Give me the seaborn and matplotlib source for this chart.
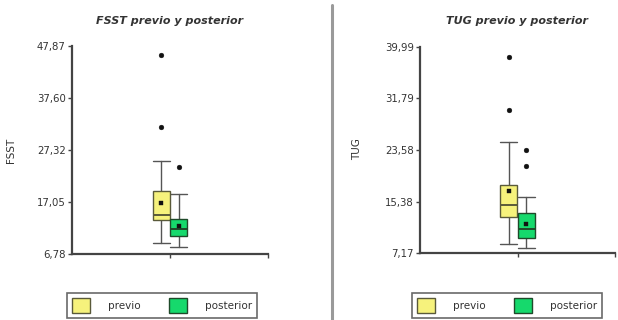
import matplotlib
matplotlib.use("Agg")
import matplotlib.pyplot as plt
from matplotlib.patches import Patch
from matplotlib.lines import Line2D
import seaborn as sns
import pandas as pd

# Summary statistics per measurement (previo, posterior)
groups = ["previo", "posterior"]

fsst_q1 = [13.5, 10.4]
fsst_median = [14.5, 11.7]
fsst_q3 = [19.3, 13.7]
fsst_whislo = [8.9, 8.2]
fsst_whishi = [25.1, 18.6]
fsst_mean = [16.8, 12.3]
fsst_fliers = [[31.8, 46.1], [24.0]]
fsst_ticks = [6.78, 17.05, 27.32, 37.60, 47.87]

tug_q1 = [13.0, 9.55]
tug_median = [14.8, 11.0]
tug_q3 = [18.0, 13.5]
tug_whislo = [8.65, 7.96]
tug_whishi = [24.9, 16.1]
tug_mean = [17.1, 11.8]
tug_fliers = [[30.0, 38.4], [21.0, 23.6]]
tug_ticks = [7.17, 15.38, 23.58, 31.79, 39.99]

fill_colors = ["#f6f27c", "#16d96c"]
edge_colors = ["#5a5a3a", "#1f4a2a"]
ink = "#333333"

sns.set_theme(style="ticks")
plt.rcParams["font.family"] = ["DejaVu Sans"]

fig = plt.figure(figsize=(6.18, 3.2), dpi=100)

offsets = [-0.045, 0.045]
box_w = 0.087


def fmt(v):
    return f"{v:.2f}".replace(".", ",")


def panel(rect, title, ylabel, q1, med, q3, lo, hi, mean, fliers, ticks, label_xy):
    ax = fig.add_axes(rect)
    stats = []
    for i in range(len(groups)):
        stats.append(dict(label=groups[i], q1=q1[i], med=med[i], q3=q3[i],
                          whislo=lo[i], whishi=hi[i], mean=mean[i], fliers=[]))
    arts = ax.bxp(stats, positions=offsets, widths=box_w, capwidths=box_w,
                  patch_artist=True, showfliers=False, showmeans=False,
                  manage_ticks=False)
    for i, b in enumerate(arts["boxes"]):
        b.set_facecolor(fill_colors[i])
        b.set_edgecolor(edge_colors[i])
        b.set_linewidth(1.0)
        b.set_zorder(2)
    for i, m in enumerate(arts["medians"]):
        m.set_color(edge_colors[i])
        m.set_linewidth(1.4)
        m.set_zorder(3)
    for w in arts["whiskers"] + arts["caps"]:
        w.set_color("#555555")
        w.set_linewidth(1.0)
        w.set_zorder(1)

    # means and outlying values
    mean_df = pd.DataFrame({"x": offsets, "y": mean})
    sns.scatterplot(data=mean_df, x="x", y="y", ax=ax, marker="s", s=12,
                    color="#111111", edgecolor="#111111", zorder=4, legend=False)
    fx, fy = [], []
    for i, fl in enumerate(fliers):
        for v in fl:
            fx.append(offsets[i])
            fy.append(v)
    fl_df = pd.DataFrame({"x": fx, "y": fy})
    sns.scatterplot(data=fl_df, x="x", y="y", ax=ax, marker="o", s=12,
                    color="#111111", edgecolor="#111111", zorder=4, legend=False)

    ax.set_xlim(-0.5, 0.5)
    ax.set_ylim(ticks[0], ticks[-1])
    ax.set_yticks(ticks)
    ax.set_yticklabels([fmt(t) for t in ticks], fontsize=7.3, color=ink)
    ax.set_xticks([0, 0.5])
    ax.set_xticklabels(["", ""])
    ax.tick_params(axis="both", length=3, width=1.0, color="#444444", pad=1.5)
    ax.set_xlabel("")
    ax.set_ylabel(ylabel, fontsize=7.5, color=ink)
    ax.yaxis.set_label_coords(*label_xy)
    ax.set_title(title, fontsize=8, fontweight="bold", style="italic",
                 color=ink, pad=16)
    for s in ["left", "bottom"]:
        ax.spines[s].set_linewidth(1.6)
        ax.spines[s].set_color("#444444")
    sns.despine(ax=ax)
    ax.set_facecolor("white")
    return ax


ax1 = panel([72 / 618, 1 - 254 / 320, 196 / 618, 208 / 320],
            "FSST previo y posterior", "FSST",
            fsst_q1, fsst_median, fsst_q3, fsst_whislo, fsst_whishi,
            fsst_mean, fsst_fliers, fsst_ticks, (-0.286, 0.5))
ax2 = panel([420 / 618, 1 - 253.3 / 320, 195 / 618, 206.6 / 320],
            "TUG previo y posterior", "TUG",
            tug_q1, tug_median, tug_q3, tug_whislo, tug_whishi,
            tug_mean, tug_fliers, tug_ticks, (-0.297, 0.505))

handles = [Patch(facecolor=fill_colors[i], edgecolor=edge_colors[i], linewidth=1.0)
           for i in range(len(groups))]
for x0 in (67, 412):
    leg = fig.legend(handles, groups, loc="lower left", ncol=2,
                     bbox_to_anchor=(x0 / 618, 1 - 318 / 320),
                     borderaxespad=0, fontsize=7.5, handlelength=1.75,
                     handleheight=1.75, fancybox=False, frameon=True,
                     borderpad=0.5, handletextpad=1.7, columnspacing=2.7,
                     labelcolor=ink)
    leg.get_frame().set_edgecolor("#444444")
    leg.get_frame().set_linewidth(1.2)

fig.add_artist(Line2D([331.5 / 618] * 2, [0, 1 - 5 / 320], color="#9a9a9a", lw=2.2))

fig.savefig("out.png", dpi=100, facecolor="white")
